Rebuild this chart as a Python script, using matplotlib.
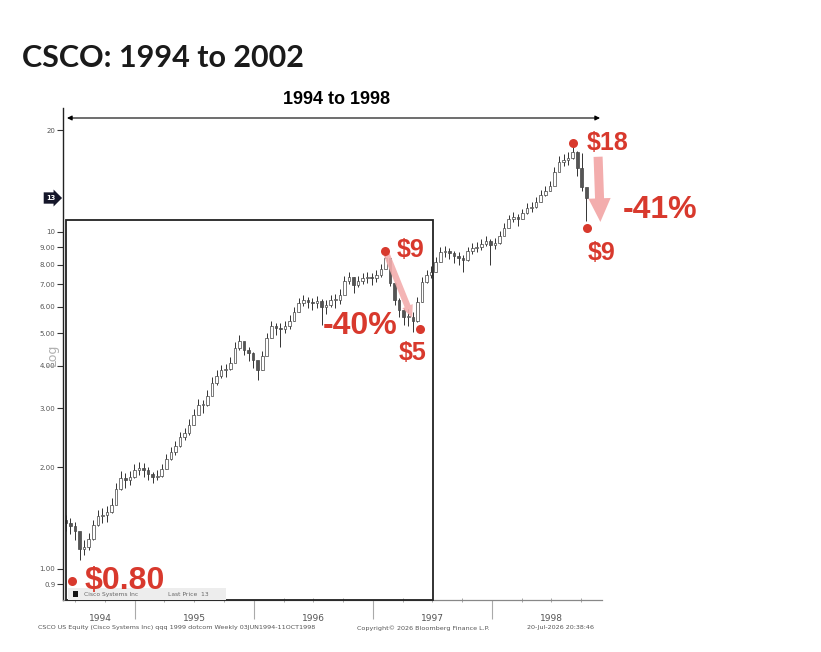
import matplotlib
matplotlib.use('Agg')
import matplotlib.pyplot as plt
import matplotlib.dates as mdates
from matplotlib.patches import Rectangle, FancyArrowPatch
from matplotlib.transforms import blended_transform_factory
import numpy as np
import pandas as pd

start_date = '1994-06-03'
first_open = 1.40
closes = [1.37, 1.34, 1.30, 1.15, 1.16, 1.23, 1.35, 1.44, 1.45, 1.48,
          1.55, 1.73, 1.86, 1.84, 1.87, 1.97, 1.99, 1.97, 1.91, 1.87,
          1.89, 1.98, 2.12, 2.22, 2.32, 2.46, 2.53, 2.68, 2.86, 3.07,
          3.07, 3.26, 3.56, 3.74, 3.89, 3.92, 4.08, 4.53, 4.75, 4.47,
          4.38, 4.17, 3.89, 4.29, 4.85, 5.26, 5.19, 5.15, 5.26, 5.44,
          5.79, 6.15, 6.28, 6.20, 6.15, 6.23, 5.99, 6.07, 6.28, 6.28,
          6.50, 7.16, 7.35, 6.96, 7.16, 7.30, 7.35, 7.30, 7.45, 7.77,
          8.37, 7.06, 6.28, 5.87, 5.60, 5.60, 5.44, 6.20, 7.11, 7.45,
          7.61, 8.15, 8.73, 8.79, 8.66, 8.49, 8.37, 8.26, 8.79, 8.97,
          9.02, 9.21, 9.40, 9.15, 9.27, 9.73, 10.28, 10.93, 11.09, 10.93,
          11.38, 11.78, 11.86, 12.27, 12.88, 13.24, 13.71, 15.08, 16.14, 16.37,
          16.59, 17.27, 15.50, 13.60, 12.60]
highs = [1.45, 1.42, 1.38, 1.27, 1.22, 1.28, 1.40, 1.50, 1.52, 1.54,
         1.62, 1.80, 1.95, 1.92, 1.95, 2.05, 2.08, 2.06, 2.00, 1.94,
         1.97, 2.05, 2.20, 2.30, 2.40, 2.55, 2.62, 2.78, 2.98, 3.20,
         3.18, 3.40, 3.70, 3.88, 4.02, 4.05, 4.25, 4.70, 4.95, 4.72,
         4.55, 4.40, 4.10, 4.42, 5.00, 5.45, 5.38, 5.35, 5.45, 5.65,
         5.98, 6.35, 6.50, 6.42, 6.38, 6.45, 6.30, 6.28, 6.50, 6.52,
         6.75, 7.40, 7.60, 7.35, 7.40, 7.55, 7.60, 7.55, 7.70, 8.05,
         8.75, 8.30, 7.10, 6.35, 5.95, 5.90, 5.80, 6.40, 7.35, 7.70,
         7.90, 8.40, 9.00, 9.05, 8.95, 8.80, 8.70, 8.55, 9.00, 9.25,
         9.30, 9.55, 9.75, 9.50, 9.60, 10.05, 10.60, 11.25, 11.45, 11.30,
         11.70, 12.15, 12.25, 12.70, 13.30, 13.70, 14.20, 15.60, 16.80, 17.00,
         17.20, 18.00, 17.40, 17.10, 13.30]
lows = [1.30, 1.27, 1.22, 1.06, 1.10, 1.14, 1.22, 1.34, 1.37, 1.38,
        1.47, 1.56, 1.72, 1.74, 1.78, 1.86, 1.90, 1.88, 1.84, 1.80,
        1.83, 1.87, 1.98, 2.10, 2.18, 2.30, 2.42, 2.50, 2.68, 2.88,
        2.90, 3.05, 3.30, 3.52, 3.68, 3.70, 3.88, 4.10, 4.45, 4.30,
        4.15, 3.95, 3.64, 3.90, 4.30, 4.85, 4.95, 4.55, 5.00, 5.15,
        5.45, 5.80, 6.02, 5.95, 5.85, 5.96, 5.30, 5.70, 5.98, 5.95,
        6.10, 6.55, 7.00, 6.60, 6.85, 7.00, 7.05, 6.95, 7.10, 7.35,
        7.80, 6.90, 6.05, 5.60, 5.30, 5.25, 5.05, 5.40, 6.20, 7.05,
        7.30, 7.60, 8.15, 8.45, 8.30, 8.10, 8.00, 7.60, 8.20, 8.60,
        8.70, 8.85, 9.05, 7.95, 8.90, 9.20, 9.80, 10.35, 10.70, 10.40,
        10.95, 11.30, 11.45, 11.80, 12.30, 12.75, 13.20, 13.90, 15.20, 15.70,
        15.80, 16.40, 14.60, 13.20, 10.80]

year_starts = ['1995-01-01', '1996-01-01', '1997-01-01', '1998-01-01']
year_labels = ['1994', '1995', '1996', '1997', '1998']
year_label_dates = ['1994-09-17', '1995-07-02', '1996-07-01', '1997-07-02', '1998-07-02']

ytick_values = [0.9, 1, 2, 3, 4, 5, 6, 7, 8, 9, 10, 20]
ytick_labels = ['0.9', '1.00', '2.00', '3.00', '4.00', '5.00', '6.00', '7.00',
                '8.00', '9.00', '10', '20']

# red call-outs drawn over the chart
note_dates = ['1994-06-21', '1997-02-06', '1997-05-24', '1998-09-06', '1998-10-18']
note_prices = [0.92, 8.8, 5.15, 18.4, 10.3]
note_texts = ['$0.80', '$9', '$5', '$18', '$9']
note_offsets = [(13, 0), (12, 1), (-8, -24), (13, 0), (15, -25)]
note_ha = ['left', 'left', 'center', 'left', 'center']
note_sizes = [23, 18, 18, 18, 18]

RED = '#d8392d'
PINK = '#f3adad'
CALLOUT_FONT = 'Liberation Sans'

W, H = 821, 652
fig = plt.figure(figsize=(W / 100, H / 100), dpi=100)
fig.patch.set_facecolor('white')

ax_l, ax_r, ax_t, ax_b = 63, 602, 108, 600
ax = fig.add_axes([ax_l / W, 1 - ax_b / H, (ax_r - ax_l) / W, (ax_b - ax_t) / H])
ax.set_yscale('log')

dates = pd.date_range(start_date, periods=len(closes), freq='14D')
x = mdates.date2num(dates)
c = np.array(closes)
opens = np.array([first_open] + closes[:-1])
bottoms = np.minimum(opens, c)
heights = np.maximum(np.abs(c - opens), 0.004 * c)
face = ['white' if cl >= op else '#555555' for op, cl in zip(opens, c)]

ax.vlines(x, lows, highs, color='#333333', lw=0.7, zorder=2)
ax.bar(x, heights, bottom=bottoms, width=8, color=face, edgecolor='#444444',
       lw=0.5, zorder=3)

ax.set_xlim(mdates.datestr2num('1994-05-25'), mdates.datestr2num('1998-12-03'))
ax.set_ylim(0.809, 23.3)

for s in ['top', 'right']:
    ax.spines[s].set_visible(False)
ax.spines['left'].set_color('#222222')
ax.spines['left'].set_linewidth(1.0)
ax.spines['bottom'].set_color('#888888')
ax.spines['bottom'].set_linewidth(0.9)

ax.set_yticks(ytick_values)
ax.set_yticklabels(ytick_labels)
ax.yaxis.set_minor_locator(matplotlib.ticker.NullLocator())
ax.tick_params(axis='y', which='major', direction='out', length=4, width=0.8,
               color='#333333', labelsize=5, labelcolor='#555555', pad=1.5)

ax.set_xticks(mdates.datestr2num(year_starts))
ax.set_xticklabels([])
ax.xaxis.set_minor_locator(mdates.MonthLocator(bymonth=[1, 4, 7, 10]))
ax.tick_params(axis='x', which='major', direction='out', length=14, width=0.8,
               color='#aaaaaa')
ax.tick_params(axis='x', which='minor', direction='inout', length=3, width=0.6,
               color='#999999')

xt = blended_transform_factory(ax.transData, ax.transAxes)
for d, lab in zip(year_label_dates, year_labels):
    ax.text(mdates.datestr2num(d), -0.037, lab, transform=xt, ha='center',
            va='center', fontsize=6.5, color='#555555')

# "Log" axis label, mostly hidden behind the tick labels
fig.text(52 / W, 1 - 355 / H, 'Log', rotation=90, ha='center', va='center',
         fontsize=9, color='#b0b0b0')

# last price tag
ax.annotate('13', xy=(0, closes[-1]), xycoords=('axes fraction', 'data'),
            xytext=(-12, 0), textcoords='offset pixels', ha='center', va='center',
            fontsize=4.8, color='white', fontweight='bold',
            bbox=dict(boxstyle='rarrow,pad=0.4', fc='#15172a', ec='none'))

# overlay box and legend
box_end = mdates.datestr2num('1997-07-04')
ax.add_patch(Rectangle((x[0], 0.809), box_end - x[0], 10.85 - 0.809, fill=False,
                       ec='#222222', lw=1.3, zorder=4, clip_on=False))
ax.add_patch(Rectangle((0.009, 0.0), 0.293, 0.024, transform=ax.transAxes,
                       fc='#ededed', ec='none', zorder=4))
ax.add_patch(Rectangle((0.018, 0.007), 0.009, 0.012, transform=ax.transAxes,
                       fc='#111111', ec='none', zorder=5))
ax.text(0.039, 0.012, 'Cisco Systems Inc', transform=ax.transAxes, fontsize=4.3,
        color='#666666', va='center', zorder=5)
ax.text(0.195, 0.012, 'Last Price  13', transform=ax.transAxes, fontsize=4.3,
        color='#666666', va='center', zorder=5)

# red dots, labels and pink arrows
nd = mdates.datestr2num(note_dates)
ax.plot(nd, note_prices, 'o', color=RED, ms=6.5, mec='none', zorder=7, clip_on=False)
for xd, p, t, off, ha, fs in zip(nd, note_prices, note_texts, note_offsets,
                                 note_ha, note_sizes):
    ax.annotate(t, xy=(xd, p), xytext=off, textcoords='offset pixels', ha=ha,
                va='center', fontsize=fs, color=RED, fontweight='bold',
                family=CALLOUT_FONT, zorder=8, annotation_clip=False)

ax.annotate('-40%', xy=(nd[2], note_prices[2]), xytext=(-23, 3),
            textcoords='offset pixels', ha='right', va='center', fontsize=23,
            color=RED, fontweight='bold', family=CALLOUT_FONT, zorder=8)
ax.annotate('-41%', xy=(nd[4], note_prices[4]), xytext=(36, 18),
            textcoords='offset pixels', ha='left', va='center', fontsize=23,
            color=RED, fontweight='bold', family=CALLOUT_FONT, zorder=8,
            annotation_clip=False)

arrow1 = FancyArrowPatch((nd[1], note_prices[1]),
                         (mdates.datestr2num('1997-04-30'), 5.56),
                         arrowstyle='simple,head_length=0.9,head_width=0.8,tail_width=0.45',
                         mutation_scale=10, color=PINK, alpha=0.9, lw=0,
                         shrinkA=3, shrinkB=0, zorder=6)
arrow2 = FancyArrowPatch((mdates.datestr2num('1998-11-21'), 16.7),
                         (mdates.datestr2num('1998-11-28'), 10.7),
                         arrowstyle='simple,head_length=1.7,head_width=1.6,tail_width=0.65',
                         mutation_scale=10, color=PINK, lw=0, shrinkA=0, shrinkB=0,
                         zorder=6, clip_on=False)
ax.add_patch(arrow1)
ax.add_patch(arrow2)

# period arrow above the chart
ax.annotate('', xy=(67 / W, 1 - 118 / H), xytext=(600 / W, 1 - 118 / H),
            xycoords='figure fraction', textcoords='figure fraction',
            arrowprops=dict(arrowstyle='<|-|>', color='black', lw=0.8,
                            mutation_scale=7, shrinkA=0, shrinkB=0))
fig.text(336 / W, 1 - 99 / H, '1994 to 1998', ha='center', va='center',
         fontsize=13, fontweight='bold', family='Liberation Sans')

fig.text(22 / W, 1 - 58 / H, 'CSCO: 1994 to 2002', ha='left', va='center',
         fontsize=22, fontweight='bold', family='Lato', color='#1a1a1a')

# Bloomberg footer
fig.text(38 / W, 1 - 628 / H,
         'CSCO US Equity (Cisco Systems Inc) qqq 1999 dotcom Weekly 03JUN1994-11OCT1998',
         fontsize=4.6, color='#555555', va='center')
fig.text(357 / W, 1 - 628 / H, 'Copyright\u00a9 2026 Bloomberg Finance L.P.',
         fontsize=4.6, color='#555555', va='center')
fig.text(527 / W, 1 - 628 / H, '20-Jul-2026 20:38:46', fontsize=4.6,
         color='#555555', va='center')

fig.savefig('out.png', dpi=100)
